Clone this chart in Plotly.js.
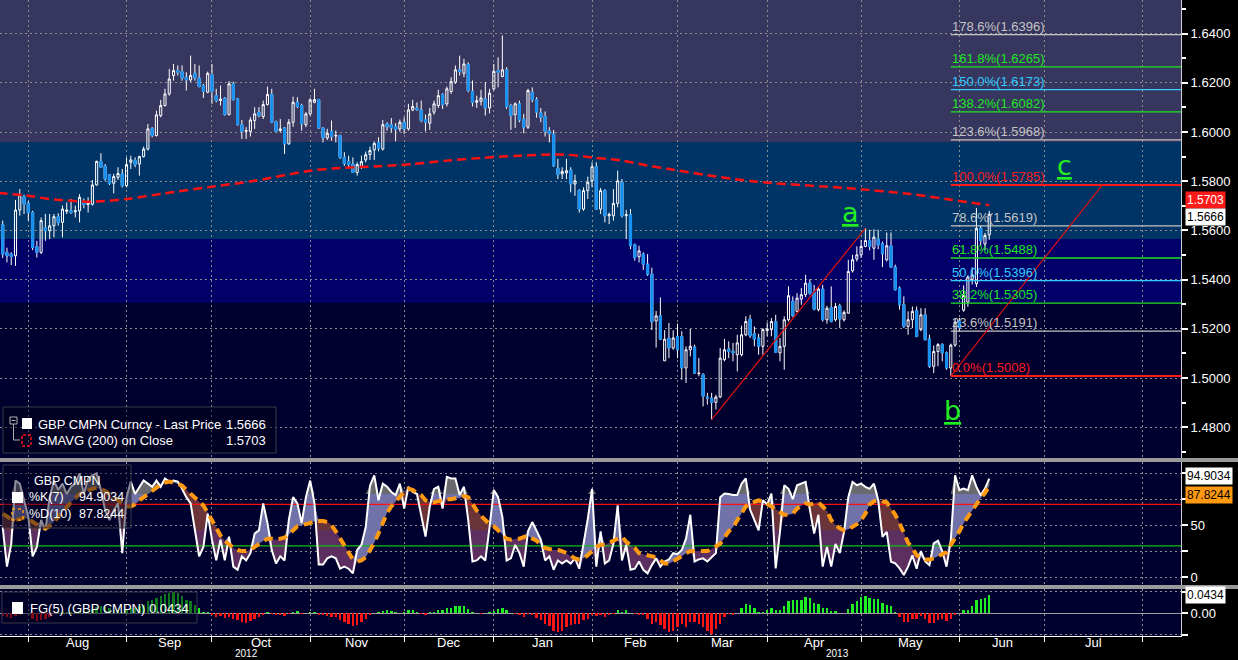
<!DOCTYPE html>
<html><head><meta charset="utf-8">
<script src="https://cdn.plot.ly/plotly-3.0.1.min.js"></script>
<style>html,body{margin:0;padding:0;background:#000;}#chart{width:1238px;height:660px;}</style>
</head><body><div id="chart"></div>
<script>
// ---------------- DATA ----------------
const START_DATE = '2012-07-24';
const MONTH_NAMES = ['Jan','Feb','Mar','Apr','May','Jun','Jul','Aug','Sep','Oct','Nov','Dec'];

const openP = [
1.5623,1.5511,1.5504,1.5497,1.5683,1.5737,1.5710,1.5673,1.5534,1.5511,
1.5612,1.5599,1.5619,1.5656,1.5633,1.5678,1.5680,1.5676,1.5680,1.5717,
1.5705,1.5707,1.5785,1.5881,1.5861,1.5827,1.5792,1.5816,1.5830,1.5782,
1.5877,1.5884,1.5870,1.5900,1.5931,1.6015,1.5986,1.6067,1.6108,1.6155,
1.6230,1.6250,1.6246,1.6223,1.6212,1.6239,1.6220,1.6189,1.6162,1.6234,
1.6148,1.6128,1.6138,1.6071,1.6196,1.6135,1.6030,1.6003,1.6003,1.6047,
1.6081,1.6063,1.6112,1.6153,1.6043,1.6006,1.6017,1.5952,1.6040,1.6121,
1.6108,1.6030,1.6074,1.6121,1.6132,1.6017,1.5976,1.6003,1.5984,1.5986,
1.5897,1.5881,1.5870,1.5836,1.5857,1.5887,1.5909,1.5927,1.5958,1.5931,
1.6033,1.6030,1.6022,1.6013,1.6040,1.6013,1.6090,1.6098,1.6090,1.6051,
1.6036,1.6081,1.6108,1.6153,1.6115,1.6165,1.6203,1.6253,1.6239,1.6275,
1.6166,1.6121,1.6125,1.6135,1.6098,1.6176,1.6250,1.6226,1.6253,1.6108,
1.6071,1.6115,1.6053,1.6020,1.6162,1.6132,1.6078,1.6063,1.6006,1.5992,
1.5853,1.5830,1.5834,1.5846,1.5789,1.5762,1.5687,1.5762,1.5802,1.5859,
1.5687,1.5762,1.5660,1.5660,1.5710,1.5796,1.5660,1.5664,1.5542,1.5493,
1.5504,1.5463,1.5422,1.5232,1.5253,1.5070,1.5163,1.5122,1.5169,1.5169,
1.5041,1.5115,1.5126,1.5018,1.5014,1.4923,1.4918,1.4901,1.4923,1.5075,
1.5118,1.5109,1.5095,1.5095,1.5176,1.5240,1.5180,1.5163,1.5129,1.5193,
1.5197,1.5230,1.5102,1.5129,1.5237,1.5312,1.5271,1.5321,1.5339,1.5386,
1.5348,1.5278,1.5362,1.5237,1.5287,1.5237,1.5294,1.5237,1.5264,1.5436,
1.5484,1.5501,1.5535,1.5559,1.5528,1.5565,1.5546,1.5481,1.5538,1.5451,
1.5366,1.5298,1.5210,1.5237,1.5275,1.5197,1.5257,1.5159,1.5048,1.5108,
1.5136,1.5102,1.5041,1.5134,1.5232,1.5276,1.5309,1.5400,1.5384,1.5609,
1.5545,1.5582];
const highP = [
1.5640,1.5530,1.5511,1.5724,1.5768,1.5745,1.5720,1.5680,1.5558,1.5653,
1.5667,1.5667,1.5667,1.5670,1.5701,1.5714,1.5728,1.5701,1.5748,1.5730,
1.5735,1.5805,1.5884,1.5914,1.5870,1.5830,1.5830,1.5857,1.5850,1.5897,
1.5904,1.5897,1.5904,1.5941,1.6033,1.6020,1.6087,1.6131,1.6176,1.6257,
1.6277,1.6271,1.6271,1.6243,1.6311,1.6277,1.6271,1.6196,1.6246,1.6277,
1.6176,1.6189,1.6142,1.6207,1.6205,1.6138,1.6049,1.6020,1.6060,1.6101,
1.6101,1.6128,1.6185,1.6176,1.6047,1.6053,1.6020,1.6053,1.6144,1.6142,
1.6115,1.6081,1.6139,1.6176,1.6135,1.6020,1.6013,1.6047,1.6006,1.5990,
1.5918,1.5904,1.5897,1.5877,1.5904,1.5921,1.5941,1.5962,1.5979,1.6049,
1.6040,1.6057,1.6036,1.6051,1.6060,1.6115,1.6131,1.6121,1.6128,1.6071,
1.6098,1.6128,1.6172,1.6158,1.6185,1.6223,1.6271,1.6311,1.6298,1.6284,
1.6210,1.6148,1.6172,1.6203,1.6176,1.6277,1.6304,1.6393,1.6264,1.6115,
1.6121,1.6128,1.6074,1.6176,1.6182,1.6142,1.6098,1.6084,1.6020,1.6009,
1.5891,1.5857,1.5891,1.5857,1.5827,1.5768,1.5775,1.5819,1.5877,1.5877,
1.5773,1.5768,1.5673,1.5768,1.5843,1.5809,1.5683,1.5687,1.5547,1.5538,
1.5511,1.5504,1.5449,1.5273,1.5328,1.5195,1.5224,1.5194,1.5221,1.5190,
1.5129,1.5200,1.5136,1.5081,1.5020,1.4940,1.4940,1.4932,1.5122,1.5159,
1.5149,1.5143,1.5176,1.5213,1.5251,1.5257,1.5210,1.5180,1.5203,1.5226,
1.5244,1.5257,1.5163,1.5251,1.5373,1.5332,1.5345,1.5366,1.5420,1.5402,
1.5379,1.5370,1.5379,1.5294,1.5373,1.5305,1.5302,1.5275,1.5481,1.5501,
1.5535,1.5562,1.5609,1.5603,1.5605,1.5603,1.5555,1.5592,1.5592,1.5461,
1.5373,1.5332,1.5271,1.5291,1.5291,1.5284,1.5284,1.5176,1.5132,1.5142,
1.5142,1.5108,1.5140,1.5242,1.5245,1.5377,1.5418,1.5450,1.5691,1.5620,
1.5590,1.5680];
const lowP = [
1.5488,1.5470,1.5459,1.5456,1.5660,1.5667,1.5640,1.5520,1.5490,1.5504,
1.5558,1.5565,1.5572,1.5620,1.5572,1.5667,1.5667,1.5653,1.5633,1.5690,
1.5673,1.5701,1.5782,1.5857,1.5802,1.5785,1.5751,1.5805,1.5775,1.5775,
1.5850,1.5857,1.5823,1.5897,1.5925,1.5979,1.5982,1.6060,1.6104,1.6148,
1.6209,1.6230,1.6209,1.6169,1.6203,1.6209,1.6182,1.6139,1.6158,1.6115,
1.6121,1.6108,1.6067,1.6068,1.6128,1.6027,1.5972,1.5972,1.5982,1.6013,
1.6060,1.6053,1.6108,1.6036,1.5999,1.5999,1.5911,1.5949,1.6022,1.6098,
1.6006,1.6020,1.6067,1.6117,1.6013,1.5958,1.5968,1.5965,1.5958,1.5890,
1.5863,1.5857,1.5836,1.5823,1.5850,1.5877,1.5887,1.5887,1.5922,1.5925,
1.6006,1.5999,1.5962,1.6002,1.5993,1.6006,1.6085,1.6087,1.6040,1.6003,
1.6009,1.6071,1.6098,1.6094,1.6104,1.6155,1.6196,1.6230,1.6223,1.6162,
1.6104,1.6098,1.6108,1.6067,1.6076,1.6169,1.6182,1.6223,1.6094,1.6009,
1.6017,1.6040,1.5995,1.6013,1.6121,1.6058,1.6040,1.5982,1.5958,1.5859,
1.5809,1.5809,1.5809,1.5755,1.5741,1.5673,1.5680,1.5728,1.5775,1.5683,
1.5667,1.5633,1.5626,1.5640,1.5694,1.5653,1.5565,1.5524,1.5477,1.5470,
1.5440,1.5415,1.5195,1.5124,1.5154,1.5070,1.5081,1.5115,1.5081,1.4993,
1.4980,1.5088,1.5018,1.5007,1.4885,1.4892,1.4831,1.4872,1.4919,1.5068,
1.5081,1.5068,1.5027,1.5088,1.5170,1.5163,1.5129,1.5095,1.5095,1.5170,
1.5170,1.5102,1.5068,1.5034,1.5230,1.5248,1.5267,1.5298,1.5329,1.5339,
1.5275,1.5271,1.5230,1.5221,1.5226,1.5230,1.5203,1.5230,1.5261,1.5429,
1.5474,1.5488,1.5532,1.5519,1.5481,1.5524,1.5451,1.5474,1.5447,1.5356,
1.5278,1.5203,1.5176,1.5203,1.5166,1.5190,1.5153,1.5041,1.5020,1.5048,
1.5068,1.5034,1.5008,1.5127,1.5190,1.5269,1.5290,1.5380,1.5370,1.5540,
1.5520,1.5562];
const closeP = [
1.5504,1.5497,1.5494,1.5683,1.5745,1.5707,1.5673,1.5531,1.5511,1.5640,
1.5599,1.5619,1.5656,1.5633,1.5687,1.5683,1.5673,1.5680,1.5735,1.5705,
1.5714,1.5785,1.5881,1.5857,1.5809,1.5792,1.5819,1.5832,1.5782,1.5868,
1.5887,1.5868,1.5900,1.5931,1.6013,1.5986,1.6070,1.6108,1.6155,1.6216,
1.6250,1.6243,1.6220,1.6212,1.6230,1.6220,1.6185,1.6165,1.6239,1.6165,
1.6128,1.6134,1.6071,1.6196,1.6132,1.6030,1.6003,1.6006,1.6049,1.6074,
1.6067,1.6112,1.6153,1.6040,1.6003,1.6013,1.5952,1.6040,1.6121,1.6104,
1.6033,1.6074,1.6131,1.6132,1.6017,1.5976,1.5995,1.5982,1.5986,1.5897,
1.5873,1.5868,1.5836,1.5868,1.5880,1.5908,1.5925,1.5954,1.5934,1.6030,
1.6022,1.6017,1.6011,1.6040,1.6013,1.6090,1.6104,1.6091,1.6047,1.6040,
1.6074,1.6115,1.6148,1.6112,1.6176,1.6205,1.6253,1.6247,1.6277,1.6169,
1.6121,1.6128,1.6139,1.6098,1.6158,1.6247,1.6243,1.6253,1.6104,1.6067,
1.6115,1.6049,1.6020,1.6169,1.6132,1.6081,1.6060,1.6003,1.5992,1.5863,
1.5827,1.5840,1.5843,1.5789,1.5802,1.5687,1.5762,1.5796,1.5859,1.5687,
1.5762,1.5660,1.5665,1.5710,1.5802,1.5660,1.5664,1.5538,1.5490,1.5517,
1.5463,1.5422,1.5229,1.5253,1.5158,1.5158,1.5122,1.5163,1.5115,1.5041,
1.5115,1.5129,1.5020,1.5020,1.4926,1.4919,1.4901,1.4923,1.5081,1.5115,
1.5108,1.5102,1.5143,1.5176,1.5230,1.5172,1.5159,1.5129,1.5197,1.5200,
1.5230,1.5104,1.5129,1.5237,1.5335,1.5253,1.5325,1.5339,1.5386,1.5345,
1.5280,1.5362,1.5237,1.5284,1.5230,1.5291,1.5240,1.5267,1.5433,1.5481,
1.5501,1.5535,1.5559,1.5535,1.5573,1.5542,1.5505,1.5538,1.5451,1.5359,
1.5298,1.5210,1.5237,1.5271,1.5169,1.5257,1.5156,1.5048,1.5108,1.5136,
1.5102,1.5041,1.5134,1.5228,1.5205,1.5336,1.5411,1.5420,1.5609,1.5559,
1.5580,1.5666];

const smaIdx = [-1,6,11,21,29,38,49,59,72,79,88,96,104,112,120,127,132,138,145,151,156,165,176,192,198,212,222,231];
const smaVal = [1.5753,1.5741,1.5728,1.5717,1.5728,1.5751,1.5778,1.5802,1.5843,1.5854,1.5861,1.5870,1.5884,1.5895,1.5903,1.5908,1.5908,1.5897,1.5884,1.5864,1.5850,1.5825,1.5799,1.5779,1.5772,1.5749,1.5725,1.5703];

const stochK = [
48,10,32,93,90,74,58,20,29,55,
45,77,93,84,90,80,87,90,100,80,
95,98,100,84,64,55,64,71,23,77,
92,80,87,93,90,87,93,87,95,92,
93,92,85,77,71,45,20,29,61,36,
16,36,16,39,10,7,20,16,23,42,
45,71,52,26,13,20,16,55,77,71,
52,77,93,71,12,12,18,20,18,8,
10,8,3.5,26,31,48,88,98,74,90,
87,82,79,90,66,87,82,80,58,39,
68,85,87,66,96.5,95,95,79,87,55,
15,16,20,16,48,84,77,58,16,18,
31,23,10,44,53,45,36,16,20,7,
16,13,16,13,18,8,31,56,85,10,
44,13,16,32,69,16,31,7,8,15,
7,3.5,11.5,18,10,15,17,23,22,26,
37,60,15,17,18,15,19,23,77,80.5,
80,79,79,90,95,65,55,45,74,70,
80.5,8.3,43.6,88.5,85,75,88.5,90,91.7,65,
42,60,10,29,10,32,23,43.6,77,91.7,
88.5,90,87,85,90,74,38.8,43.6,14.8,13.2,
8.3,1.9,10,21,8,25,15,11.5,32.4,35,
25,10,35.6,98,83.7,85.3,83.7,98,86.9,78.8,
85.3,94.9034];
const stochD = [
61,58,56,55,56,57,56,53,50,48,
47,49,53,58,63,68,72,76,80,82,
84,85,86,85,83,80,76,73,70,68,
68,70,74,77,80,83,87,89,91,92,
91,90,88,84,80,76,72,69,62,55,
48,40,35,31,28,26,25,25,26,29,
32,35,37,37,36,37,38,41,45,49,
50,51,52,54,54,54,53,50,44,37,
30,23,17,15,16,19,26,33,42,52,
62,68,73,78,82,85,84,81,79,74,
72,72,73,74,75,75,76,76,78,77,
70,64,59,55,51,49,45,41,37,36,
37,37,39,40,37,35,31,28,27,26,
26,25,23,20,18,17,18,21,25,29,
31,31,33,35,37,39,34,31,28,23,
22,21,20,19,16,13,13,15,17,20,
23,25,25,25,25,25,27,30,32,38,
44,48,55,62,68,71,73,74,73,71,
68,65,63,60,60,61,66,69,71,70,
71,72,68,64,55,50,47,45,46,48,
51,55,61,70,73,74,73,72,66,60,
52,42,33,28,21,19,17,17,18,20,
22,24,31,37,44,52,58,64,71,76,
81,87.8244];
const fgVals = [
-0.006,-0.008,-0.010,-0.006,-0.003,0.000,0.001,-0.012,-0.018,-0.016,
-0.014,-0.008,-0.002,0.002,0.003,0.003,0.002,0.003,0.006,0.005,
0.006,0.009,0.014,0.016,0.014,0.012,0.008,0.007,0.004,0.008,
0.012,0.012,0.016,0.020,0.028,0.030,0.036,0.040,0.044,0.048,
0.050,0.046,0.040,0.032,0.028,0.020,0.012,0.004,0.004,-0.004,
-0.008,-0.006,-0.010,-0.008,-0.012,-0.016,-0.020,-0.022,-0.018,-0.012,
-0.008,-0.004,0.003,-0.002,-0.004,-0.004,-0.006,-0.002,0.004,0.006,
-0.001,0.000,0.004,0.004,-0.003,-0.004,-0.006,-0.008,-0.009,-0.016,
-0.020,-0.024,-0.029,-0.028,-0.020,-0.012,-0.004,0.000,0.002,0.006,
0.008,0.006,0.002,0.001,0.004,0.008,0.008,0.004,-0.002,-0.004,
0.002,0.004,0.008,0.008,0.012,0.013,0.017,0.017,0.017,0.010,
0.002,0.000,-0.001,0.000,0.002,0.006,0.010,0.013,0.008,0.001,
-0.001,-0.003,-0.008,-0.002,-0.004,-0.010,-0.016,-0.024,-0.030,-0.040,
-0.044,-0.040,-0.032,-0.028,-0.024,-0.024,-0.016,-0.012,-0.005,-0.006,
-0.004,-0.008,-0.004,-0.002,0.008,0.004,0.008,0.000,-0.002,-0.004,
-0.004,-0.012,-0.024,-0.020,-0.028,-0.036,-0.044,-0.040,-0.032,-0.024,
-0.032,-0.020,-0.020,-0.024,-0.032,-0.040,-0.048,-0.036,-0.024,-0.008,
-0.002,-0.004,0.000,0.012,0.022,0.020,0.012,0.004,0.004,0.008,
0.013,0.008,0.008,0.017,0.028,0.032,0.032,0.032,0.037,0.035,
0.024,0.021,0.013,0.012,0.005,0.005,0.000,0.000,0.010,0.021,
0.028,0.037,0.040,0.036,0.033,0.033,0.024,0.020,0.016,0.004,
-0.008,-0.020,-0.020,-0.014,-0.012,-0.006,-0.012,-0.022,-0.022,-0.016,
-0.012,-0.018,-0.012,-0.004,0.000,0.008,0.008,0.016,0.032,0.034,
0.036,0.0434];

const fibPct = ['178.6','161.8','150.0','138.2','123.6','100.0','78.6','61.8','50.0','38.2','23.6','0.0'];
const fibVal = [1.6396,1.6265,1.6173,1.6082,1.5968,1.5785,1.5619,1.5488,1.5396,1.5305,1.5191,1.5008];
const waveIdx = [166, 202, 222, 257.5];
const wavePrice = [1.4831, 1.5609, 1.5008, 1.5785];
const waveLabels = ['a','b','c'];
const waveLabelIdx = [198.5, 222.5, 248.7];
const waveLabelPrice = [1.5675, 1.4870, 1.5866];
const bandEdges = [1.4600, 1.5306, 1.5565, 1.5960, 1.6600];
const stochLevels = [70, 30];
const lastPrice = 1.5666, lastSma = 1.5703, lastK = 94.9034, lastD = 87.8244, lastFG = 0.0434;

// ---------------- STYLE ----------------
const FONT = 'Liberation Sans, Arial, sans-serif';
const BAND_COLORS = ['#00002f', '#000068', '#003466', '#36365f'];
const FIB_COLORS = ['#c4c4c4','#1ee61e','#33ccff','#1ee61e','#c4c4c4','#ff1a1a','#c4c4c4','#1ee61e','#33ccff','#1ee61e','#c4c4c4','#ff1a1a'];
const BLUE = '#1690f0';
const GRID = '#8c8c8c';
const W = 1181, H = 636;
const fx = px => px / W;
const fy = py => (H - py) / H;
const X_MIN = -0.63, X_MAX = 275.9;

// ---------------- CALENDAR (axis only) ----------------
function weekdays(startISO, count) {
  const out = []; const d = new Date(startISO + 'T00:00:00Z');
  while (out.length < count) { const wd = d.getUTCDay(); if (wd !== 0 && wd !== 6) out.push(new Date(d)); d.setUTCDate(d.getUTCDate() + 1); }
  return out;
}
const cal = weekdays(START_DATE, 320);
const monthStarts = [];
for (let i = 1; i < cal.length; i++) if (cal[i].getUTCMonth() !== cal[i-1].getUTCMonth()) monthStarts.push({i, m: cal[i].getUTCMonth(), y: cal[i].getUTCFullYear()});
const gridIdx = monthStarts.filter(s => s.i <= X_MAX).map(s => s.i);
const monthLabels = [];
for (let k = 0; k < monthStarts.length - 1; k++) {
  const a = monthStarts[k], b = monthStarts[k+1];
  if (a.i <= X_MAX && b.i <= X_MAX + 1) monthLabels.push({x: (a.i + b.i) / 2, t: MONTH_NAMES[a.m]});
}
const yearStart2013 = monthStarts.find(s => s.m === 0).i;
const yearLabels = [{x: (X_MIN + yearStart2013) / 2, t: String(cal[0].getUTCFullYear())}, {x: (yearStart2013 + X_MAX) / 2, t: String(cal[yearStart2013].getUTCFullYear())}];

// ---------------- TRACES ----------------
const idx = closeP.map((_, i) => i);
const traces = [];
traces.push({type:'candlestick', x: idx, open: openP, high: highP, low: lowP, close: closeP, xaxis:'x', yaxis:'y',
  increasing:{line:{color:'#ffffff', width:1}, fillcolor:'rgba(0,0,0,0)'},
  decreasing:{line:{color:'#ffffff', width:1}, fillcolor:BLUE}, whiskerwidth:0, hoverinfo:'skip'});
const dn = idx.filter(i => closeP[i] < openP[i]);
traces.push({type:'candlestick', x: dn, open: dn.map(i=>openP[i]), high: dn.map(i=>openP[i]), low: dn.map(i=>closeP[i]), close: dn.map(i=>closeP[i]),
  xaxis:'x', yaxis:'y', increasing:{line:{color:BLUE, width:1}, fillcolor:BLUE}, decreasing:{line:{color:BLUE, width:1}, fillcolor:BLUE}, whiskerwidth:0, hoverinfo:'skip'});
traces.push({type:'scatter', mode:'lines', x: smaIdx, y: smaVal, xaxis:'x', yaxis:'y', line:{color:'#ff1010', width:2.5, dash:'9px,5px', shape:'spline', smoothing:0.8}, hoverinfo:'skip'});
fibVal.forEach((v, k) => traces.push({type:'scatter', mode:'lines', x:[waveIdx[2], X_MAX], y:[v, v], xaxis:'x', yaxis:'y',
  line:{color: FIB_COLORS[k], width: (k === 5 || k === 11) ? 2 : 1.3}, hoverinfo:'skip'}));
traces.push({type:'scatter', mode:'lines', x:[waveIdx[0], waveIdx[1]], y:[wavePrice[0], wavePrice[1]], xaxis:'x', yaxis:'y', line:{color:'#e01010', width:1.2}, hoverinfo:'skip'});
traces.push({type:'scatter', mode:'lines', x:[waveIdx[2], waveIdx[3]], y:[wavePrice[2], wavePrice[3]], xaxis:'x', yaxis:'y', line:{color:'#e01010', width:1.2}, hoverinfo:'skip'});

// stochastic fills
const maxKD = stochK.map((k,i) => Math.max(k, stochD[i]));
const minKD = stochK.map((k,i) => Math.min(k, stochD[i]));
const base = (y, fill, color) => ({type:'scatter', mode:'lines', x: idx, y, xaxis:'x', yaxis:'y2', line:{width:0, color:'rgba(0,0,0,0)'}, fill: fill ? 'tonexty' : 'none', fillcolor: color, hoverinfo:'skip'});
traces.push(base(stochD, false));
traces.push(base(maxKD, true, '#7272aa'));
traces.push(base(stochD, false));
traces.push(base(minKD, true, '#5c2f60'));
traces.push(base(stochD.map(v => Math.max(v, 80)), false));
traces.push(base(maxKD.map(v => Math.max(v, 80)), true, '#6a6a6e'));
traces.push(base(minKD.map(v => Math.max(v, 45)), false));
traces.push(base(stochD.map(v => Math.max(v, 45)), true, '#6b3438'));
stochLevels.forEach((lv, k) => traces.push({type:'scatter', mode:'lines', x:[X_MIN, X_MAX], y:[lv, lv], xaxis:'x', yaxis:'y2', line:{color: k === 0 ? '#ff1010' : '#10c010', width:1.3}, hoverinfo:'skip'}));
traces.push({type:'scatter', mode:'lines', x: idx, y: stochK, xaxis:'x', yaxis:'y2', line:{color:'#ffffff', width:2}, hoverinfo:'skip'});
traces.push({type:'scatter', mode:'lines', x: idx, y: stochD, xaxis:'x', yaxis:'y2', line:{color:'#ff9a10', width:4, dash:'9px,6px'}, hoverinfo:'skip'});

// FG histogram
traces.push({type:'bar', x: idx, y: fgVals, xaxis:'x', yaxis:'y3', width:0.55, marker:{color: fgVals.map(v => v >= 0 ? '#1ff01f' : '#ff1414'), line:{width:0}}, hoverinfo:'skip'});

// ---------------- SHAPES ----------------
const shapes = [];
for (let k = 0; k < 4; k++) shapes.push({type:'rect', xref:'x', yref:'y', x0:X_MIN, x1:X_MAX, y0:bandEdges[k], y1:bandEdges[k+1], fillcolor:BAND_COLORS[k], line:{width:0}, layer:'below'});
const prect = (x0,y0,x1,y1,opt) => Object.assign({type:'rect', xref:'paper', yref:'paper', x0:fx(x0), x1:fx(x1), y0:fy(y1), y1:fy(y0), layer:'above'}, opt);
shapes.push(prect(0, 458, 1238, 462, {fillcolor:'#9a9a9a', line:{width:0}}));
shapes.push(prect(0, 585, 1238, 589, {fillcolor:'#9a9a9a', line:{width:0}}));
shapes.push(prect(3, 407, 276, 453, {fillcolor:'rgba(0,0,20,0.45)', line:{color:'#3a3a48', width:1}}));
shapes.push(prect(3, 465, 131, 528, {fillcolor:'rgba(0,0,30,0.45)', line:{color:'#3a3a48', width:1}}));
shapes.push(prect(2, 592, 197, 623, {fillcolor:'rgba(0,0,30,0.5)', line:{color:'#3a3a48', width:1}}));
shapes.push(prect(10, 417, 17, 424, {fillcolor:'rgba(0,0,0,0)', line:{color:'#b0b0b0', width:1}}));
shapes.push({type:'line', xref:'paper', yref:'paper', x0:fx(11.5), x1:fx(15.5), y0:fy(420.5), y1:fy(420.5), line:{color:'#b0b0b0', width:1}, layer:'above'});
shapes.push({type:'path', xref:'paper', yref:'paper', path:`M ${fx(13.5)} ${fy(424)} L ${fx(13.5)} ${fy(440)} L ${fx(20)} ${fy(440)}`, line:{color:'#b0b0b0', width:1}, layer:'above'});
shapes.push(prect(22, 418, 32, 429, {fillcolor:'#ffffff', line:{width:0}}));
shapes.push(prect(22, 435, 31, 446, {fillcolor:'rgba(0,0,0,0)', line:{color:'#ff1010', width:1.5, dash:'3px,2px'}}));
shapes.push(prect(12, 492, 23, 503, {fillcolor:'#ffffff', line:{width:0}}));
shapes.push(prect(12, 509, 23, 520, {fillcolor:'rgba(0,0,0,0)', line:{color:'#ff9a10', width:1.5, dash:'3px,3px'}}));
shapes.push(prect(12, 602, 23, 614, {fillcolor:'#ffffff', line:{width:0}}));

// ---------------- ANNOTATIONS ----------------
const ann = [];
const txt = (px, py, text, anchor, color, size) => ({xref:'paper', yref:'paper', x:fx(px), y:fy(py), xanchor:anchor||'left', yanchor:'middle', text, showarrow:false, font:{family:FONT, size:size||13, color:color||'#ffffff'}});
ann.push(txt(36, 424, 'GBP CMPN Curncy - Last Price'));
ann.push(txt(268, 424, lastPrice.toFixed(4), 'right'));
ann.push(txt(36, 440, 'SMAVG (200) on Close'));
ann.push(txt(268, 440, lastSma.toFixed(4), 'right'));
ann.push(txt(67, 481, 'GBP CMPN', 'center', '#ffffff', 12.5));
ann.push(txt(27, 497, '%K(7)', 'left', '#ffffff', 12.5));
ann.push(txt(126, 497, lastK.toFixed(4), 'right', '#ffffff', 12.5));
ann.push(txt(27, 514, '%D(10)', 'left', '#ffffff', 12.5));
ann.push(txt(126, 514, lastD.toFixed(4), 'right', '#ffffff', 12.5));
ann.push(txt(28, 608, 'FG(5) (GBP CMPN) ' + lastFG.toFixed(4)));
fibVal.forEach((v, k) => ann.push({xref:'x', yref:'y', x: waveIdx[2], y: v, xanchor:'left', yanchor:'bottom', text: fibPct[k] + '%(' + v.toFixed(4) + ')', showarrow:false, font:{family:FONT, size:13, color: FIB_COLORS[k]}, borderpad:0}));
waveLabels.forEach((t, k) => ann.push({xref:'x', yref:'y', x: waveLabelIdx[k], y: waveLabelPrice[k], text:'<u>' + t + '</u>', showarrow:false, font:{family:'DejaVu Sans, sans-serif', size:27, color:'#22ee22'}}));
monthLabels.forEach(m => ann.push({xref:'x', yref:'paper', x: m.x, y: fy(642), yanchor:'middle', text: m.t, showarrow:false, font:{family:FONT, size:13, color:'#ffffff'}, borderpad:0}));
yearLabels.forEach(m => ann.push({xref:'x', yref:'paper', x: m.x, y: fy(660), yanchor:'bottom', text: m.t, showarrow:false, font:{family:FONT, size:10, color:'#ffffff'}, borderpad:0}));
const tag = (yref, y, text, bg, fg, ys) => ({xref:'paper', x:1, xanchor:'left', xshift:4, yref, y, yanchor:'middle', yshift: ys || 0, text, showarrow:false, bgcolor:bg, font:{family:FONT, size:12, color:fg}, borderpad:1});
ann.push(tag('y', lastSma, lastSma.toFixed(4), '#ff1a1a', '#ffffff', 5));
ann.push(tag('y', lastPrice, lastPrice.toFixed(4), '#ffffff', '#000000', -3));
ann.push(tag('y2', lastD, lastD.toFixed(4), '#ff9a10', '#000000', -9));
ann.push(tag('y2', lastK, lastK.toFixed(4), '#ffffff', '#000000', 3));
ann.push(tag('y3', lastFG, lastFG.toFixed(4), '#ffffff', '#000000'));

// ---------------- LAYOUT ----------------
const yCommon = {side:'right', anchor:'x', showline:true, linecolor:'#d0d0d0', linewidth:1, zeroline:false, showgrid:true, gridcolor:GRID, griddash:'2px,3px', gridwidth:1,
  ticks:'outside', ticklen:6, tickwidth:2, tickcolor:'#ffffff', tickfont:{family:FONT, size:13, color:'#ffffff'}, fixedrange:true};
const layout = {
  width:1238, height:660, margin:{l:0, r:57, t:0, b:24},
  paper_bgcolor:'#000000', plot_bgcolor:'#00002e', showlegend:false, dragmode:false,
  font:{family:FONT, size:13, color:'#ffffff'},
  xaxis:{range:[X_MIN, X_MAX], anchor:'y3', tickmode:'array', tickvals: gridIdx, ticktext: gridIdx.map(()=>''), showgrid:true, gridcolor:GRID, griddash:'2px,3px', gridwidth:1,
    ticks:'outside', ticklen:5, tickcolor:'#ffffff', showline:true, linecolor:'#ffffff', linewidth:1, zeroline:false, rangeslider:{visible:false}, fixedrange:true},
  yaxis: Object.assign({}, yCommon, {domain:[fy(458), 1], range:[1.4675, 1.6537], tick0:1.48, dtick:0.02, tickformat:'.4f',
    minor:{dtick:0.01, ticks:'outside', ticklen:4, tickcolor:'#ffffff', showgrid:false}}),
  yaxis2: Object.assign({}, yCommon, {domain:[fy(585), fy(462)], range:[-7.7, 110.9], tickmode:'array', tickvals:[0,25,50,75,100], ticktext:['0','','50','','']}),
  yaxis3: Object.assign({}, yCommon, {domain:[0, fy(589)], range:[-0.0525, 0.0563], tickmode:'array', tickvals:[-0.05,0,0.05], ticktext:['','0.00',''],
    zeroline:true, zerolinecolor:'#a0a0a0', zerolinewidth:1.5}),
  bargap:0, shapes, annotations: ann
};
Plotly.newPlot('chart', traces, layout, {displayModeBar:false, staticPlot:true});
</script></body></html>
